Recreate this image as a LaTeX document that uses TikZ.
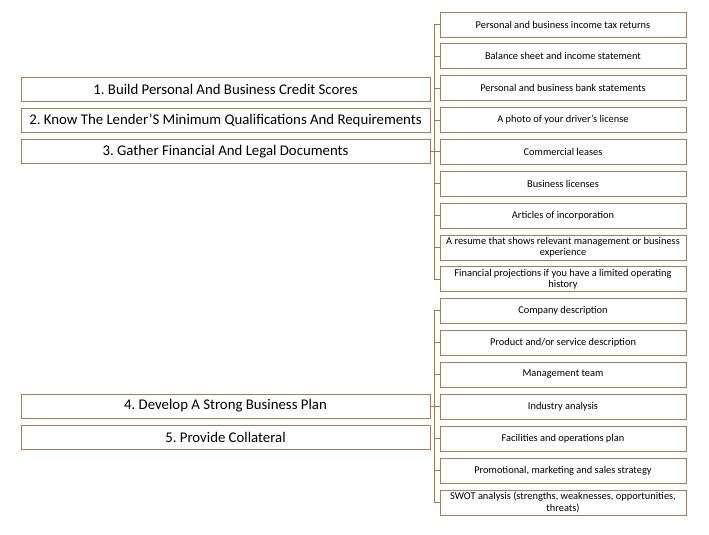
\documentclass[tikz,border=0pt]{standalone}
\usepackage{fontspec}
\setmainfont{Carlito}
\definecolor{boxline}{RGB}{170,126,84}
\definecolor{trunk}{RGB}{186,114,58}
\begin{document}
\frenchspacing
\begin{tikzpicture}[x=1pt,y=-1pt,
  stepbox/.style={draw=boxline,line width=.8pt,minimum width=409pt,minimum height=24pt,inner sep=0pt,
    font=\fontsize{14.8}{17}\selectfont},
  docbox/.style={draw=boxline,line width=.8pt,minimum width=246pt,minimum height=25pt,
    align=center,inner sep=0pt,font=\fontsize{10.4}{11.5}\selectfont},
  link/.style={draw=trunk,line width=1pt}]
  \useasboundingbox (0,0) rectangle (709,535);
  \node[stepbox] (s1) at (225.5,89) {1. Build Personal And Business Credit Scores};
  \node[stepbox] (s2) at (225.5,120) {2. Know The Lender’S Minimum Qualifications And Requirements};
  \node[stepbox] (s3) at (225.5,151.5) {3. Gather Financial And Legal Documents};
  \node[stepbox] (s4) at (225.5,406) {4. Develop A Strong Business Plan};
  \node[stepbox] (s5) at (225.5,437) {5. Provide Collateral};
  \foreach \t [count=\i] in {Personal and business income tax returns,
    Balance sheet and income statement,Personal and business bank statements,
    A photo of your driver’s license,Commercial leases,Business licenses,
    Articles of incorporation,
    A resume that shows relevant management or business\\experience,
    Financial projections if you have a limited operating\\history}
    \node[docbox] (d\i) at (563,{24.5+31.85*(\i-1)}) {\t};
  \foreach \t [count=\i] in {Company description,Product and/or service description,
    Management team,Industry analysis,Facilities and operations plan,
    {Promotional, marketing and sales strategy},
    {SWOT analysis (strengths, weaknesses, opportunities,\\threats)}}
    \node[docbox] (p\i) at (563,{310.5+32*(\i-1)}) {\t};
  \coordinate (ta) at (434,0);
  \draw[link] (d1.west -| ta) -- (d9.west -| ta);
  \draw[link] (s3.east) -- (s3.east -| ta);
  \foreach \i in {1,...,9} \draw[link] (d\i.west -| ta) -- (d\i.west);
  \draw[link] (p1.west -| ta) -- (p7.west -| ta);
  \draw[link] (s4.east) -- (s4.east -| ta);
  \foreach \i in {1,...,7} \draw[link] (p\i.west -| ta) -- (p\i.west);
\end{tikzpicture}
\end{document}
